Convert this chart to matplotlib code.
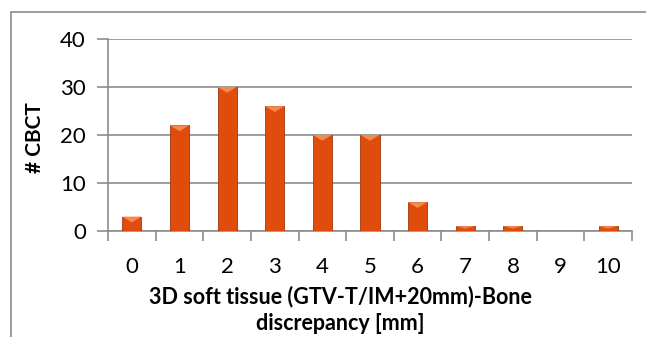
import matplotlib
matplotlib.use("Agg")
import matplotlib.pyplot as plt
from matplotlib.patches import Rectangle, Polygon

categories = ["0", "1", "2", "3", "4", "5", "6", "7", "8", "9", "10"]
counts = [3, 22, 30, 26, 20, 20, 6, 1, 1, 0, 1]
y_ticks = [0, 10, 20, 30, 40]

plt.rcParams["font.family"] = ["Lato", "DejaVu Sans"]

W, H = 646, 337
fig = plt.figure(figsize=(W / 100, H / 100), dpi=100)

# plot area in pixel coordinates
left, right, top, bottom = 108, 632, 39, 231
ax = fig.add_axes([left / W, 1 - bottom / H, (right - left) / W, (bottom - top) / H])

# outer chart frame
frame = Rectangle((11 / W, -0.1), 1.0, 1 - 12 / H + 0.1, transform=fig.transFigure,
                  fill=False, edgecolor="#8c8c8c", linewidth=1.2, zorder=0)
fig.add_artist(frame)

x = list(range(len(categories)))
bar_w = 0.4
bars = ax.bar(x, counts, width=bar_w, color="#DF4C0C", edgecolor="#A33808",
              linewidth=0.6, zorder=3)

# bevel highlight on top of each bar
for xi, v in zip(x, counts):
    if v <= 0:
        continue
    h = min(1.2, v * 0.5)
    tri = Polygon([(xi - bar_w / 2, v), (xi + bar_w / 2, v), (xi, v - h)],
                  closed=True, facecolor="#F48A4E", edgecolor="none", zorder=4)
    ax.add_patch(tri)

ax.set_xlim(-0.5, len(categories) - 0.5)
ax.set_ylim(0, 40)
ax.set_yticks(y_ticks)
ax.set_yticklabels([str(t) for t in y_ticks], fontsize=16)
ax.yaxis.grid(True, color="#8c8c8c", linewidth=1.2, zorder=0)
ax.set_axisbelow(True)

ax.set_xticks(x)
ax.set_xticklabels(categories, fontsize=16)
ax.set_xticks([i - 0.5 for i in range(len(categories) + 1)], minor=True)
ax.tick_params(axis="x", which="major", length=0, pad=19)
ax.tick_params(axis="x", which="minor", length=7, color="#8c8c8c", width=1.2)
ax.tick_params(axis="y", length=8, color="#8c8c8c", width=1.2, pad=8)

for s in ["top", "right"]:
    ax.spines[s].set_visible(False)
for s in ["left", "bottom"]:
    ax.spines[s].set_color("#8c8c8c")
    ax.spines[s].set_linewidth(1.2)

fig.text(35 / W, 1 - 138 / H, "# CBCT", rotation=90, fontsize=15, fontweight="bold",
         ha="center", va="center")
fig.text(340 / W, 1 - 297 / H, "3D soft tissue (GTV-T/IM+20mm)-Bone", fontsize=15.5,
         fontweight="bold", ha="center", va="center")
fig.text(340 / W, 1 - 324 / H, "discrepancy [mm]", fontsize=15.5,
         fontweight="bold", ha="center", va="center")

fig.savefig("out.png", dpi=100)
